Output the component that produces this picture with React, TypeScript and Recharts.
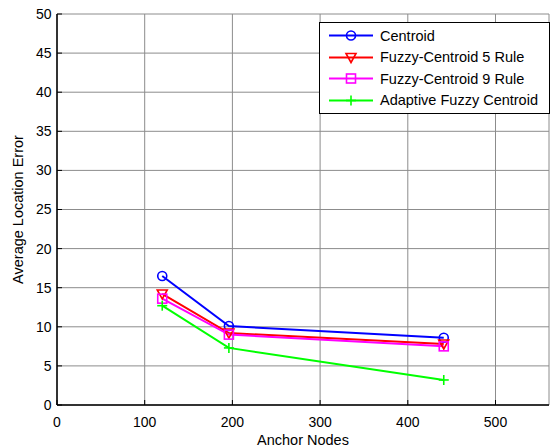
import React from 'react'
import { LineChart, Line, XAxis, YAxis, CartesianGrid } from 'recharts'

const anchorNodes = [120, 196, 441]
const centroid = [16.5, 10.1, 8.6]
const fuzzy5 = [14.2, 9.2, 7.8]
const fuzzy9 = [13.6, 9.0, 7.5]
const adaptive = [12.7, 7.3, 3.2]

const xTicks = [0, 100, 200, 300, 400, 500]
const yTicks = [0, 5, 10, 15, 20, 25, 30, 35, 40, 45, 50]

const SERIES = [
  { key: 'centroid', name: 'Centroid', color: '#0000ff', marker: 'circle' },
  { key: 'fuzzy5', name: 'Fuzzy-Centroid 5 Rule', color: '#ff0000', marker: 'triangle' },
  { key: 'fuzzy9', name: 'Fuzzy-Centroid 9 Rule', color: '#ff00ff', marker: 'square' },
  { key: 'adaptive', name: 'Adaptive Fuzzy Centroid', color: '#00ff00', marker: 'plus' },
]

const data = anchorNodes.map((x, i) => ({
  x,
  centroid: centroid[i],
  fuzzy5: fuzzy5[i],
  fuzzy9: fuzzy9[i],
  adaptive: adaptive[i],
}))

const FONT = '"Liberation Sans", Arial, sans-serif'

function Marker({ cx, cy, type, color }: { cx: number; cy: number; type: string; color: string }) {
  if (cx == null || cy == null) return null
  if (type === 'circle')
    return <circle cx={cx} cy={cy} r={4.5} fill="none" stroke={color} strokeWidth={1.6} />
  if (type === 'triangle')
    return (
      <polygon
        points={`${cx - 5},${cy - 4} ${cx + 5},${cy - 4} ${cx},${cy + 5}`}
        fill="none"
        stroke={color}
        strokeWidth={1.6}
      />
    )
  if (type === 'square')
    return <rect x={cx - 4.5} y={cy - 4.5} width={9} height={9} fill="none" stroke={color} strokeWidth={1.6} />
  return (
    <g stroke={color} strokeWidth={1.6}>
      <line x1={cx - 5} y1={cy} x2={cx + 5} y2={cy} />
      <line x1={cx} y1={cy - 5} x2={cx} y2={cy + 5} />
    </g>
  )
}

// legend box sits over the plot, top right
function LegendBox() {
  return (
    <div
      style={{
        position: 'absolute',
        left: 319,
        top: 22,
        border: '1px solid #000',
        background: '#fff',
        width: 229,
        padding: '2px 0',
        fontFamily: FONT,
        fontSize: 14.5,
      }}
    >
      {SERIES.map((s) => (
        <div key={s.key} style={{ display: 'flex', alignItems: 'center', height: 21.5, whiteSpace: 'nowrap' }}>
          <svg width={60} height={21} style={{ flex: 'none' }}>
            <line x1={9} y1={10.5} x2={53} y2={10.5} stroke={s.color} strokeWidth={2} />
            <Marker cx={31} cy={10.5} type={s.marker} color={s.color} />
          </svg>
          <span style={{ color: '#000' }}>{s.name}</span>
        </div>
      ))}
    </div>
  )
}

export default function App() {
  const tickStyle = { fontSize: 14, fill: '#000', fontFamily: FONT }
  const labelStyle = { fontSize: 14.5, fill: '#000', fontFamily: FONT }
  return (
    <div style={{ position: 'absolute', left: 0, top: 0, width: 553, height: 447, background: '#fff' }}>
      <LineChart width={553} height={447} data={data} margin={{ top: 14, right: 4, left: 0, bottom: 0 }}>
        <CartesianGrid stroke="#8c8c8c" strokeWidth={1} xAxisId="b" yAxisId="l" />
        <XAxis
          xAxisId="b"
          dataKey="x"
          type="number"
          domain={[0, 561]}
          ticks={xTicks}
          height={42}
          axisLine={{ stroke: '#000', strokeWidth: 1.5 }}
          tickLine={{ stroke: '#000' }}
          tickSize={-5}
          tickMargin={17}
          tick={tickStyle}
          label={{ value: 'Anchor Nodes', position: 'insideBottom', offset: 2, style: labelStyle }}
        />
        <XAxis
          xAxisId="t"
          orientation="top"
          dataKey="x"
          type="number"
          domain={[0, 561]}
          ticks={xTicks}
          height={0}
          axisLine={{ stroke: '#000', strokeWidth: 1.5 }}
          tickLine={{ stroke: '#000' }}
          tickSize={-5}
          tick={{ fill: 'none' }}
        />
        <YAxis
          yAxisId="l"
          type="number"
          domain={[0, 50]}
          ticks={yTicks}
          width={57}
          axisLine={{ stroke: '#000', strokeWidth: 1.5 }}
          tickLine={{ stroke: '#000' }}
          tickSize={-5}
          tickMargin={10.5}
          tick={tickStyle}
          label={{
            value: 'Average Location Error',
            angle: -90,
            position: 'insideLeft',
            offset: 18,
            style: { ...labelStyle, textAnchor: 'middle' },
          }}
        />
        <YAxis
          yAxisId="r"
          orientation="right"
          type="number"
          domain={[0, 50]}
          ticks={yTicks}
          width={0}
          axisLine={{ stroke: '#000', strokeWidth: 1.5 }}
          tickLine={{ stroke: '#000' }}
          tickSize={-5}
          tick={{ fill: 'none' }}
        />
        {SERIES.map((s) => (
          <Line
            key={s.key}
            xAxisId="b"
            yAxisId="l"
            dataKey={s.key}
            name={s.name}
            stroke={s.color}
            strokeWidth={2}
            isAnimationActive={false}
            dot={(p: any) => <Marker key={`${s.key}-${p.index}`} cx={p.cx} cy={p.cy} type={s.marker} color={s.color} />}
          />
        ))}
      </LineChart>
      <LegendBox />
    </div>
  )
}
